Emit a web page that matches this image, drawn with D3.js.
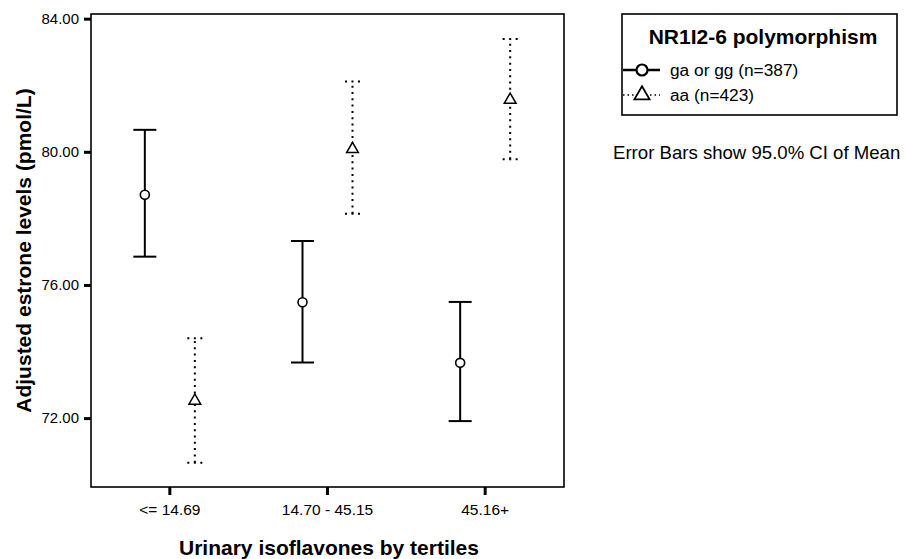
<!DOCTYPE html>
<html>
<head>
<meta charset="utf-8">
<script src="https://cdn.jsdelivr.net/npm/d3@7"></script>
<style>
  body { margin: 0; background: #fff; }
  svg { font-family: "Liberation Sans", Arial, sans-serif; }
</style>
</head>
<body>
<svg id="chart" width="906" height="559"></svg>
<script>
// values
const categories = ["<= 14.69", "14.70 - 45.15", "45.16+"];
const groups = ["ga or gg (n=387)", "aa (n=423)"];
const gaMean = [78.71, 75.48, 73.66];
const gaLow = [76.85, 73.67, 71.91];
const gaHigh = [80.66, 77.32, 75.49];
const aaMean = [72.52, 80.08, 81.56];
const aaLow = [70.66, 78.14, 79.78];
const aaHigh = [74.40, 82.11, 83.39];
const yTicks = [72, 76, 80, 84];

const svg = d3.select("#chart");
const width = 906, height = 559;
const margin = {top: 14, right: 342, bottom: 72, left: 91};
const plotW = width - margin.left - margin.right;
const plotH = height - margin.top - margin.bottom;

const x = d3.scaleBand().domain(categories).range([0, plotW]);
const xSub = d3.scaleBand().domain(groups).range([-50, 50]);
const y = d3.scaleLinear().domain([69.93, 84.14]).range([plotH, 0]);

const rows = [];
categories.forEach((c, i) => {
    rows.push({cat: c, group: groups[0], mean: gaMean[i], low: gaLow[i], high: gaHigh[i]});
    rows.push({cat: c, group: groups[1], mean: aaMean[i], low: aaLow[i], high: aaHigh[i]});
});
const cx = d => x(d.cat) + x.bandwidth() / 2 + xSub(d.group) + xSub.bandwidth() / 2;
const isGa = d => d.group === groups[0];

const g = svg.append("g").attr("transform", `translate(${margin.left},${margin.top})`);

// frame
g.append("rect")
    .attr("x", 0).attr("y", 0)
    .attr("width", plotW).attr("height", plotH)
    .attr("fill", "none")
    .attr("stroke", "#000")
    .attr("stroke-width", 1.6);

// axes
const yAxis = g.append("g")
    .call(d3.axisLeft(y).tickValues(yTicks).tickFormat(d3.format(".2f")).tickSize(7).tickPadding(5));
yAxis.select(".domain").remove();
yAxis.selectAll(".tick line").attr("stroke-width", 3);
yAxis.selectAll("text").attr("font-size", 15).attr("fill", "#000");

const xAxis = g.append("g")
    .attr("transform", `translate(0,${plotH})`)
    .call(d3.axisBottom(x).tickSize(8).tickPadding(9));
xAxis.select(".domain").remove();
xAxis.selectAll(".tick line").attr("stroke-width", 3);
xAxis.selectAll("text").attr("font-size", 15.5).attr("fill", "#000");

// axis titles
svg.append("text")
    .attr("transform", `translate(31,${margin.top + plotH / 2}) rotate(-90)`)
    .attr("text-anchor", "middle")
    .attr("font-size", 21)
    .attr("font-weight", "bold")
    .text("Adjusted estrone levels (pmol/L)");

svg.append("text")
    .attr("x", 329)
    .attr("y", 555)
    .attr("text-anchor", "middle")
    .attr("font-size", 21)
    .attr("font-weight", "bold")
    .text("Urinary isoflavones by tertiles");

// error bars
const bars = g.append("g").selectAll("g")
    .data(rows)
    .join("g");

bars.append("line")
    .attr("x1", cx).attr("x2", cx)
    .attr("y1", d => y(d.low)).attr("y2", d => y(d.high))
    .attr("stroke", "#000")
    .attr("stroke-width", 2)
    .attr("stroke-dasharray", d => isGa(d) ? null : "2,4.3");

[d => d.low, d => d.high].forEach(acc => {
    bars.append("line")
        .attr("x1", d => cx(d) - (isGa(d) ? 11.5 : 7.5))
        .attr("x2", d => cx(d) + (isGa(d) ? 11.5 : 7.5))
        .attr("y1", d => y(acc(d))).attr("y2", d => y(acc(d)))
        .attr("stroke", "#000")
        .attr("stroke-width", 2)
        .attr("stroke-dasharray", d => isGa(d) ? null : "2,4.5");
});

// markers
const tri = d3.symbol().type(d3.symbolTriangle).size(60);
bars.filter(isGa).append("circle")
    .attr("cx", cx).attr("cy", d => y(d.mean))
    .attr("r", 4.5)
    .attr("fill", "#fff")
    .attr("stroke", "#000")
    .attr("stroke-width", 1.6);
bars.filter(d => !isGa(d)).append("path")
    .attr("d", tri)
    .attr("transform", d => `translate(${cx(d)},${y(d.mean)})`)
    .attr("fill", "#fff")
    .attr("stroke", "#000")
    .attr("stroke-width", 1.5);

// legend
const lg = svg.append("g");
lg.append("rect")
    .attr("x", 622).attr("y", 14)
    .attr("width", 275).attr("height", 101)
    .attr("fill", "none")
    .attr("stroke", "#000")
    .attr("stroke-width", 1.6);
lg.append("text")
    .attr("x", 763).attr("y", 44)
    .attr("text-anchor", "middle")
    .attr("font-size", 21)
    .attr("font-weight", "bold")
    .text("NR1I2-6 polymorphism");

const items = lg.selectAll(".item")
    .data(groups)
    .join("g")
    .attr("class", "item")
    .attr("transform", (d, i) => `translate(0,${70 + i * 25})`);
items.append("line")
    .attr("x1", 623).attr("x2", 660)
    .attr("stroke", "#000")
    .attr("stroke-width", (d, i) => i === 0 ? 2.4 : 1.5)
    .attr("stroke-dasharray", (d, i) => i === 0 ? null : "1.5,3");
items.filter((d, i) => i === 0).append("circle")
    .attr("cx", 642).attr("r", 5.5)
    .attr("fill", "#fff").attr("stroke", "#000").attr("stroke-width", 2.2);
items.filter((d, i) => i === 1).append("path")
    .attr("d", d3.symbol().type(d3.symbolTriangle).size(100))
    .attr("transform", "translate(642,0)")
    .attr("fill", "#fff").attr("stroke", "#000").attr("stroke-width", 1.8);
items.append("text")
    .attr("x", 670).attr("dy", "0.35em")
    .attr("font-size", 17.3)
    .text(d => d);

svg.append("text")
    .attr("x", 613).attr("y", 159)
    .attr("font-size", 18.6)
    .text("Error Bars show 95.0% CI of Mean");
</script>
</body>
</html>
